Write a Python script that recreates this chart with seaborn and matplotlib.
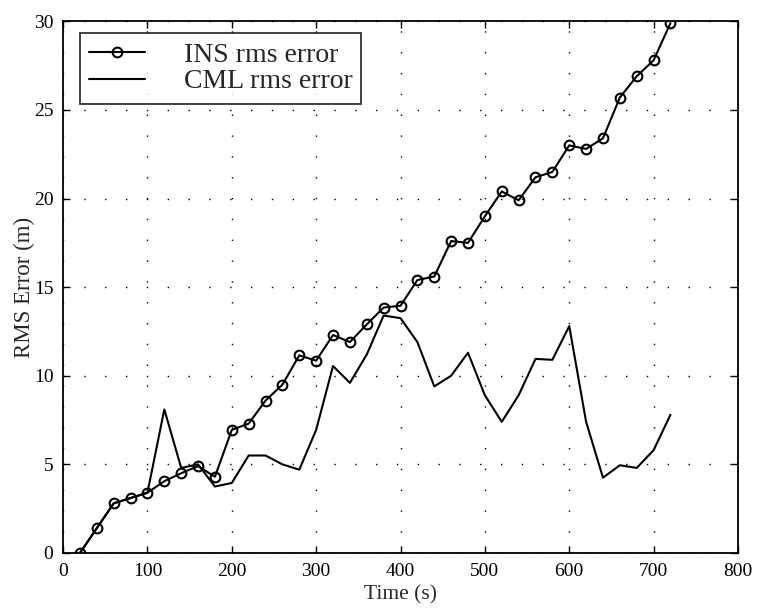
import matplotlib
matplotlib.use("Agg")
import matplotlib.pyplot as plt
import seaborn as sns
import pandas as pd

time_s = [20, 40, 60, 80, 100, 120, 140, 160, 180, 200, 220, 240, 260, 280, 300,
          320, 340, 360, 380, 400, 420, 440, 460, 480, 500, 520, 540, 560, 580,
          600, 620, 640, 660, 680, 700, 720]
ins_err = [0.0, 1.4, 2.8, 3.1, 3.4, 4.05, 4.5, 4.9, 4.3, 6.95, 7.3, 8.6, 9.5, 11.15,
           10.85, 12.3, 11.9, 12.9, 13.85, 13.95, 15.4, 15.6, 17.6, 17.5, 19.0,
           20.4, 19.9, 21.2, 21.5, 23.0, 22.8, 23.4, 25.7, 26.9, 27.8, 29.9]
cml_err = [0.0, 1.4, 2.8, 3.1, 3.4, 8.1, 4.8, 5.0, 3.75, 3.95, 5.5, 5.5, 5.0, 4.7,
           6.95, 10.55, 9.6, 11.2, 13.4, 13.25, 11.9, 9.4, 10.0, 11.3, 8.9, 7.4,
           8.9, 10.95, 10.9, 12.8, 7.4, 4.25, 4.95, 4.8, 5.8, 7.8]

x_ticks = [0, 100, 200, 300, 400, 500, 600, 700, 800]
y_ticks = [0, 5, 10, 15, 20, 25, 30]

df = pd.DataFrame({"time": time_s, "ins": ins_err, "cml": cml_err})

sns.set_theme(style="white")
plt.rcParams["font.family"] = ["Liberation Serif", "DejaVu Serif"]

fig = plt.figure(figsize=(7.6, 6.09), dpi=100)
ax = fig.add_axes([0.083, 0.092, 0.888, 0.873])

sns.lineplot(data=df, x="time", y="ins", ax=ax, color="black", linewidth=1.5,
             marker="o", markersize=7, markerfacecolor="none",
             markeredgecolor="black", markeredgewidth=1.5, label="INS rms error")
sns.lineplot(data=df, x="time", y="cml", ax=ax, color="black", linewidth=1.5,
             label="CML rms error")

ax.set_xlim(0, 800)
ax.set_ylim(0, 30)
ax.set_xticks(x_ticks)
ax.set_yticks(y_ticks)
ax.set_xlabel("Time (s)", fontsize=15.5, labelpad=4)
ax.set_ylabel("RMS Error (m)", fontsize=16.5, labelpad=-1)
ax.tick_params(axis="both", which="major", direction="in", length=5, width=1,
               labelsize=14, top=True, right=True, bottom=True, left=True,
               colors="black", pad=7)
for s in ax.spines.values():
    s.set_color("black")
    s.set_linewidth(1.3)
ax.grid(True, color="black", linestyle=(0, (1, 14)), linewidth=1.0)
ax.set_axisbelow(True)

leg = ax.legend(loc="upper left", fontsize=20, frameon=True, fancybox=False,
                edgecolor="black", handlelength=2.0, handletextpad=1.4,
                borderpad=0.33, labelspacing=0.05, bbox_to_anchor=(0.025, 0.978),
                borderaxespad=0)
leg.get_frame().set_linewidth(1.3)

fig.savefig("out.png", dpi=100, facecolor="white")
